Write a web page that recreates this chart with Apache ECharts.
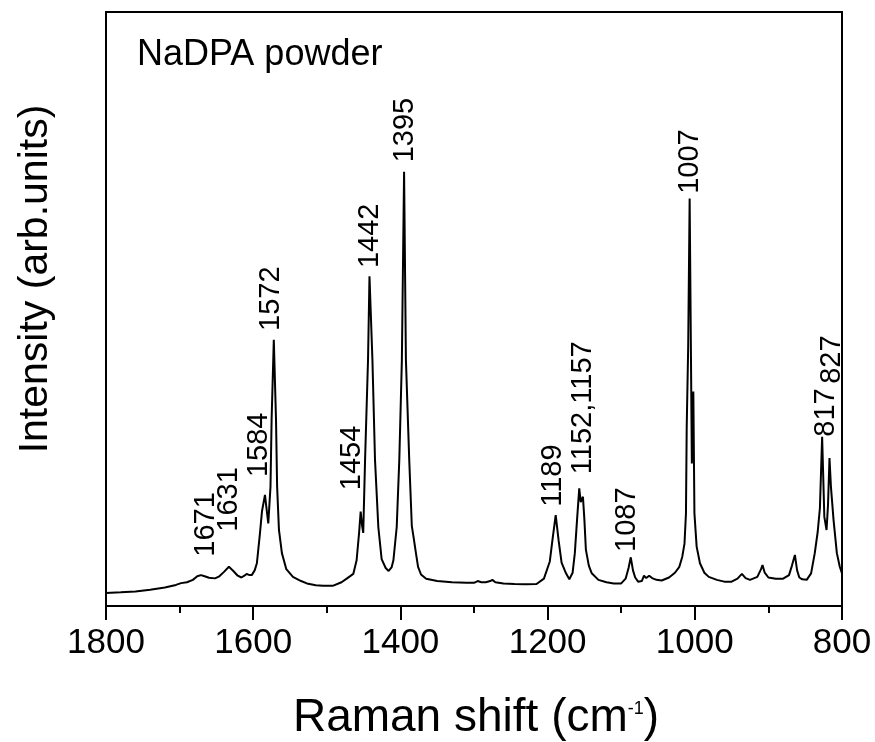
<!DOCTYPE html>
<html>
<head>
<meta charset="utf-8">
<script src="https://cdn.jsdelivr.net/npm/echarts@6/dist/echarts.min.js"></script>
<style>
  html, body { margin: 0; padding: 0; background: #fff; }
  #chart { width: 875px; height: 742px; }
</style>
</head>
<body>
<div id="chart"></div>
<script>
// Raman spectrum of NaDPA powder (wavenumber in cm^-1, intensity in arbitrary units)
const shift = [
  1800, 1780, 1760, 1740, 1720, 1705, 1698, 1690, 1682, 1676, 1671, 1666, 1660, 1652, 1646, 1640,
  1633, 1627, 1621, 1616, 1612, 1609, 1605, 1602, 1598, 1595, 1591, 1588, 1584, 1582, 1579.5, 1576.5,
  1575, 1572, 1569, 1567.5, 1565, 1561, 1555, 1546, 1535, 1527, 1515, 1505, 1492, 1480, 1472, 1464,
  1459.5, 1456, 1454, 1452, 1450.5, 1448, 1444, 1442, 1438, 1434.5, 1430, 1425.5, 1420, 1416, 1412, 1409.5,
  1405, 1401.5, 1398, 1395, 1392.5, 1388, 1384.5, 1382, 1379, 1376, 1372, 1365, 1350, 1330, 1310, 1300,
  1295, 1290, 1284, 1278, 1275, 1271, 1260, 1245, 1230, 1215, 1205, 1197, 1193, 1189, 1185, 1181,
  1175, 1170.5, 1166, 1163, 1160, 1157, 1155, 1152, 1150, 1148, 1144, 1140, 1131, 1120, 1110, 1100,
  1094, 1090, 1087, 1084, 1081, 1077, 1072, 1069, 1066, 1062, 1058, 1052, 1045, 1035, 1027, 1021,
  1017, 1014, 1012, 1011, 1009, 1007, 1004, 1002, 1000.5, 997.5, 993, 987, 981, 970, 960, 950,
  942, 936, 931, 925, 915, 910, 908, 905, 900, 890, 880, 872, 868, 864, 861, 858,
  854, 848, 842, 837, 833, 830, 827, 824, 821, 819, 817, 815, 811.5, 807, 803, 800
];
const intensity = [
  2.2, 2.3, 2.45, 2.75, 3.1, 3.55, 3.85, 4.0, 4.4, 5.0, 5.2, 5.0, 4.75, 4.65, 5.0, 5.7,
  6.6, 5.9, 5.1, 4.8, 5.1, 5.4, 5.2, 5.2, 6.0, 7.2, 12.0, 16.0, 18.7, 16.5, 13.9, 20.1,
  31.3, 44.8, 31.3, 20.1, 12.8, 8.9, 6.2, 4.9, 4.2, 3.8, 3.5, 3.4, 3.4, 4.0, 4.7, 5.4,
  7.7, 12.5, 15.9, 13.5, 12.3, 24.6, 41.4, 55.5, 41.4, 24.6, 13.3, 7.9, 6.4, 5.9, 6.5, 7.7,
  13.3, 24.6, 41.4, 73.1, 41.4, 24.6, 13.5, 11.5, 9.0, 6.6, 5.3, 4.6, 4.2, 4.0, 3.9, 3.9,
  4.2, 4.0, 4.0, 4.2, 4.4, 4.0, 3.8, 3.7, 3.65, 3.7, 4.6, 7.5, 11.5, 15.3, 11.0, 7.3,
  5.5, 4.5, 5.6, 8.9, 14.5, 19.8, 17.5, 18.4, 14.5, 9.5, 6.8, 5.5, 4.4, 4.0, 3.8, 3.8,
  4.6, 6.4, 8.2, 6.0, 4.8, 4.1, 4.2, 5.1, 4.7, 5.1, 4.7, 4.4, 4.3, 4.8, 5.6, 6.6,
  8.3, 10.5, 15.6, 30.0, 43.6, 68.6, 24.0, 36.1, 15.6, 10.0, 7.2, 5.6, 4.9, 4.4, 4.1, 4.1,
  4.6, 5.4, 4.7, 4.4, 4.9, 6.2, 6.9, 5.6, 4.8, 4.6, 4.6, 5.2, 6.8, 8.6, 6.0, 4.8,
  4.5, 4.4, 5.5, 8.9, 12.5, 16.5, 28.5, 15.0, 12.8, 17.0, 24.9, 20.0, 14.5, 8.9, 6.6, 5.5
];

// Peak assignments and where each tag sits (bottom-centre, in data coordinates)
const peakLabels = ['1671', '1631', '1584', '1572', '1454', '1442', '1395', '1189', '1152,1157', '1087', '1007', '827', '817'];
const labelAt = [
  [1664, 8.3], [1633, 12.5], [1592, 21.7], [1576, 46.3], [1466, 19.5], [1441, 56.9], [1394, 74.7],
  [1193, 16.7], [1152, 22.2], [1092, 9.1], [1006.5, 69.4], [813.6, 37.4], [821.7, 28.5]
];

const xTicks = [1800, 1600, 1400, 1200, 1000, 800];

const FONT = '"Liberation Sans", Arial, Helvetica, sans-serif';

const chart = echarts.init(document.getElementById('chart'), null, { renderer: 'canvas' });

const spectrum = shift.map((w, i) => [w, intensity[i]]);
const tags = peakLabels.map((t, i) => ({ value: labelAt[i], name: t }));

chart.setOption({
  backgroundColor: '#ffffff',
  animation: false,
  grid: {
    left: 106, right: 33, top: 12, bottom: 136,
    show: true, borderColor: '#000', borderWidth: 2, backgroundColor: 'transparent'
  },
  xAxis: {
    type: 'value',
    inverse: true,
    min: 800, max: 1800, interval: 200,
    axisLine: { show: true, lineStyle: { color: '#000', width: 2 } },
    axisTick: { show: true, length: 14, lineStyle: { color: '#000', width: 2 } },
    minorTick: { show: true, splitNumber: 2, length: 7, lineStyle: { color: '#000', width: 2 } },
    splitLine: { show: false },
    axisLabel: {
      color: '#000', fontFamily: FONT, fontSize: 35, margin: 20,
      formatter: v => (xTicks.indexOf(v) >= 0 ? String(v) : '')
    }
  },
  yAxis: {
    type: 'value',
    min: 0, max: 100,
    axisLine: { show: true, lineStyle: { color: '#000', width: 2 } },
    axisTick: { show: false },
    axisLabel: { show: false },
    splitLine: { show: false }
  },
  series: [
    {
      type: 'line',
      data: spectrum,
      showSymbol: false,
      smooth: false,
      lineStyle: { color: '#000', width: 2 },
      z: 3
    },
    {
      type: 'scatter',
      data: tags,
      symbolSize: 0,
      silent: true,
      itemStyle: { opacity: 1, color: '#000' },
      label: {
        show: true,
        position: 'top',
        distance: 0,
        rotate: 90,
        align: 'left',
        verticalAlign: 'middle',
        color: '#000',
        opacity: 1,
        fontFamily: FONT,
        fontSize: 29,
        formatter: p => p.name
      },
      z: 4
    }
  ],
  graphic: [
    {
      type: 'text', left: 137, top: 37,
      style: { text: 'NaDPA powder', fill: '#000', font: '36px ' + FONT }
    },
    {
      type: 'text', x: 36, y: 279, rotation: Math.PI / 2,
      style: {
        text: 'Intensity (arb.units)', fill: '#000', font: '41px ' + FONT,
        textAlign: 'center', textVerticalAlign: 'middle'
      }
    },
    {
      type: 'text', x: 476, y: 718,
      style: {
        text: '{a|Raman shift (cm}{s|-1}{a|)}',
        textAlign: 'center', textVerticalAlign: 'middle',
        rich: {
          a: { fontFamily: FONT, fontSize: 46, fill: '#000', color: '#000' },
          s: { fontFamily: FONT, fontSize: 18, fill: '#000', color: '#000', padding: [0, 0, 18, 0] }
        }
      }
    }
  ]
});
</script>
</body>
</html>
